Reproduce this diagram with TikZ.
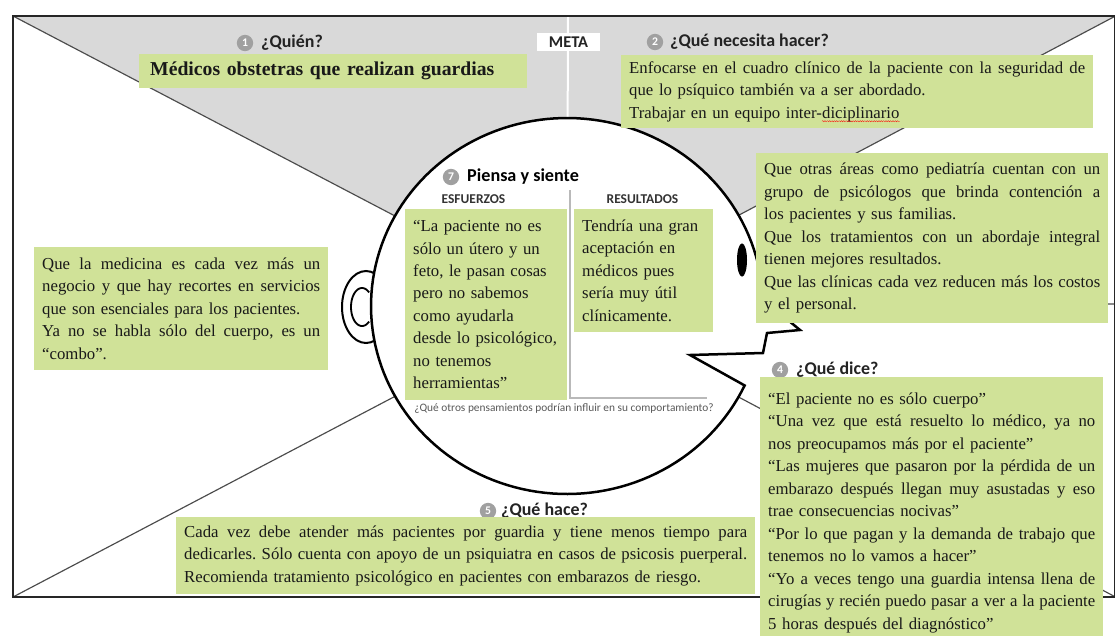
\documentclass[tikz,border=0pt]{standalone}
\usepackage{fontspec}
\setmainfont{Liberation Serif}
\newfontfamily\calfont{Carlito}
\usetikzlibrary{decorations.pathmorphing}
\frenchspacing
\definecolor{boxgreen}{RGB}{208,226,152}
\definecolor{areagray}{RGB}{217,217,217}
\definecolor{txt}{RGB}{25,25,25}
\definecolor{badgegray}{RGB}{160,160,160}
\definecolor{lbltxt}{RGB}{35,35,35}
\newcommand\boxfont{\fontsize{14.3pt}{19.2pt}\selectfont}
\newcommand\lblfont{\calfont\bfseries\fontsize{15.3pt}{17pt}\selectfont}
\newcommand\jl[1]{{\spaceskip=0pt\xspaceskip=0pt\makebox[\hsize][s]{#1}}}
\newcommand\redwave[1]{\tikz[baseline=(dicip.base)]{\node[inner sep=0pt, text width={}, align=none, anchor=base, minimum height=0pt, minimum width=0pt] (dicip) {#1};
  \draw[red, line width=0.25pt, decorate, decoration={snake, amplitude=0.5pt, segment length=2pt}] ([yshift=-2.5pt]dicip.base west) -- ([yshift=-2.5pt]dicip.base east);}}
\begin{document}
\begin{tikzpicture}[x=0.3mm,y=-0.3mm,
  gbox/.style={fill=boxgreen, inner xsep=2.4mm, inner ysep=1mm, align=left, font=\boxfont, text=txt, anchor=north west},
  lbl/.style={font=\lblfont, text=lbltxt, inner sep=0pt, anchor=west},
  badge/.style={circle, fill=badgegray, text=white, inner sep=0pt, minimum size=4.9mm, font=\calfont\bfseries\fontsize{10pt}{10pt}\selectfont},
  diag/.style={draw=black!70, line width=0.35mm},
  frame/.style={draw=black!85, line width=0.7mm},
  headline/.style={draw=black, line width=0.75mm, line join=miter},
  colhead/.style={font=\calfont\bfseries\fontsize{11.5pt}{12pt}\selectfont, text=black!80, inner sep=0pt}
  ]
\useasboundingbox (0,0) rectangle (1115,635);
\fill[white] (0,0) rectangle (1115,635);
% key points
\coordinate (TL) at (13,16);
\coordinate (TR) at (1115.5,16);
\coordinate (BL) at (13,597);
\coordinate (BR) at (1115.5,597);
\coordinate (C) at (567,306);
\coordinate (TM) at (568,16);
\coordinate (RM) at (1115.5,304);
% top grey area and dividing lines
\fill[areagray] (TL) -- (TR) -- (C) -- cycle;
\draw[diag] (TL) -- (C);
\draw[diag] (TR) -- (C);
\draw[diag] (BL) -- (C);
\draw[diag] (BR) -- (C);
\draw[diag] (C) -- (RM);
\draw[white, line width=0.6mm] (TM) -- (C);
\draw[frame] (TL) rectangle (BR);
% ear
\draw[draw=black, line width=0.6mm, fill=white] (366,307) ellipse [x radius=7.2mm, y radius=10.8mm];
% head with mouth
\draw[headline, fill=white] plot[domain=25:358, samples=150, variable=\t] ({567+196*cos(\t)}, {306+188*sin(\t)})
  -- (800,330) -- (767,333) -- (763,353) -- (690,355) -- cycle;
% inner ear
\draw[line width=0.55mm] plot[domain=50:310, samples=60, variable=\t] ({362+11*cos(\t)}, {307+19*sin(\t)});
% eye
\fill[black] (742,260) ellipse [x radius=1.5mm, y radius=5mm];
% divider inside head
\draw[gray!55, line width=0.45mm] (570,190) -- (570,398) -- (707,398);

% META
\node[fill=white, minimum width=18.9mm, minimum height=5.4mm, inner sep=0pt, font=\calfont\bfseries\fontsize{14pt}{15pt}\selectfont, text=lbltxt] (meta) at (568.5,42) {META};

% 1 Quien
\node[badge] (b1) at (245,43) {1};
\node[lbl] (l1) at (261,43) {¿Quién?};
\node[gbox, anchor=north west, text width=109.8mm, minimum height=10.2mm, inner xsep=3.3mm, font=\bfseries\fontsize{16.8pt}{19pt}\selectfont] (quien) at (139,54) {Médicos obstetras que realizan guardias};

% 2 Que necesita hacer
\node[badge] (b2) at (655,42) {2};
\node[lbl] (l2) at (670,42) {¿Qué necesita hacer?};
\node[gbox, text width=136.8mm, minimum height=21.9mm] (hacer) at (621,55) {\jl{Enfocarse en el cuadro clínico de la paciente con la seguridad de}\\
que lo psíquico también va a ser abordado.\\
Trabajar en un equipo inter-\redwave{diciplinario}};

% right top box
\node[gbox, text width=100.8mm, minimum height=51mm] (ve) at (756,153) {\jl{Que otras áreas como pediatría cuentan con un}\\
\jl{grupo de psicólogos que brinda contención a}\\
los pacientes y sus familias.\\
\jl{Que los tratamientos con un abordaje integral}\\
tienen mejores resultados.\\
\jl{Que las clínicas cada vez reducen más los costos}\\
y el personal.};

% left box
\node[gbox, text width=83.4mm, minimum height=36.9mm] (oye) at (34,247) {\jl{Que la medicina es cada vez más un}\\
\jl{negocio y que hay recortes en servicios}\\
que son esenciales para los pacientes.\\
\jl{Ya no se habla sólo del cuerpo, es un}\\
“combo”.};

% 7 Piensa y siente
\node[badge] (b7) at (451,177) {7};
\node[lbl, font=\calfont\bfseries\fontsize{15.5pt}{17pt}\selectfont, text=black] (l7) at (467,177) {Piensa y siente};
\node[colhead] (esf) at (473.5,199) {ESFUERZOS};
\node[colhead] (res) at (642.5,199) {RESULTADOS};
\node[gbox, text width=43.8mm, minimum height=57.3mm] (esfbox) at (405,209) {“La paciente no es\\
sólo un útero y un\\
feto, le pasan cosas\\
pero no sabemos\\
como ayudarla\\
desde lo psicológico,\\
no tenemos\\
herramientas”};
\node[gbox, text width=36.9mm, minimum height=36.9mm] (resbox) at (574,209) {Tendría una gran\\
aceptación en\\
médicos pues\\
sería muy útil\\
clínicamente.};
\node[font=\calfont\fontsize{9.7pt}{10pt}\selectfont, text=black!65, inner sep=0pt] (otros) at (564,408) {¿Qué otros pensamientos podrían influir en su comportamiento?};

% 4 Que dice
\node[badge] (b4) at (780,370) {4};
\node[lbl] (l4) at (796,370) {¿Qué dice?};
\node[gbox, text width=98.1mm, inner ysep=4.6mm] (dice) at (760,377) {“El paciente no es sólo cuerpo”\\
\jl{“Una vez que está resuelto lo médico, ya no}\\
nos preocupamos más por el paciente”\\
\jl{“Las mujeres que pasaron por la pérdida de un}\\
\jl{embarazo después llegan muy asustadas y eso}\\
trae consecuencias nocivas”\\
\jl{“Por lo que pagan y la demanda de trabajo que}\\
tenemos no lo vamos a hacer”\\
\jl{“Yo a veces tengo una guardia intensa llena de}\\
\jl{cirugías y recién puedo pasar a ver a la paciente}\\
5 horas después del diagnóstico”};

% 5 Que hace
\node[badge] (b5) at (488,511) {5};
\node[lbl] (l5) at (501,511) {¿Qué hace?};
\node[gbox, text width=168.9mm, minimum height=23mm] (hace) at (176,517) {\jl{Cada vez debe atender más pacientes por guardia y tiene menos tiempo para}\\
\jl{dedicarles. Sólo cuenta con apoyo de un psiquiatra en casos de psicosis puerperal.}\\
Recomienda tratamiento psicológico en pacientes con embarazos de riesgo.};
\end{tikzpicture}
\end{document}
